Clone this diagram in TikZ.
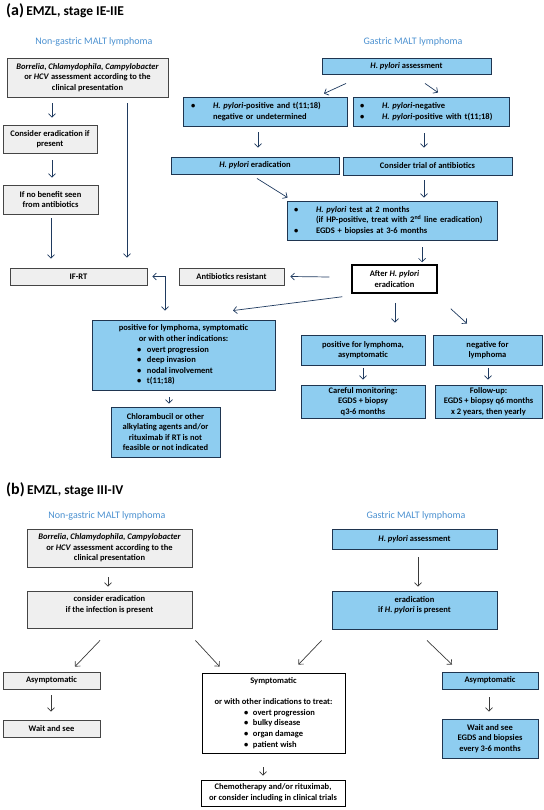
\documentclass[tikz,border=0pt]{standalone}
\usepackage{fontspec}
\setmainfont{Carlito}
\usetikzlibrary{arrows.meta,calc}
\definecolor{bfill}{HTML}{8ECDF0}
\definecolor{bdraw}{HTML}{1F3550}
\definecolor{gfill}{HTML}{EFEFEF}
\definecolor{gdraw}{HTML}{454545}
\definecolor{hblue}{HTML}{4A90D0}
\definecolor{arrc}{HTML}{1F3A5F}
\definecolor{arrg}{HTML}{3A3A3A}
\tikzset{
  base/.style={draw, inner sep=0pt, align=center, font=\fontsize{8.5}{10.6}\selectfont\bfseries, line width=0.9pt},
  gbox/.style={base, fill=gfill, draw=gdraw},
  bbox/.style={base, fill=bfill, draw=bdraw},
  wbox/.style={base, fill=white, draw=black},
  abox/.style={base, fill=white, draw=black, line width=1.5pt},
  hdr/.style={text=hblue, font=\fontsize{10}{12}\selectfont},
  ttl/.style={anchor=base west, inner sep=0pt, font=\bfseries},
  arr/.style={draw=arrc, line width=0.7pt, -{Straight Barb[length=3.5pt,width=7pt]}},
  arrb/.style={draw=arrc, line width=0.7pt, {Straight Barb[length=3.5pt,width=7pt]}-{Straight Barb[length=3.5pt,width=7pt]}},
  garr/.style={draw=arrg, line width=0.7pt, -{Straight Barb[length=3.5pt,width=7pt]}},
}
\newcommand\mkbox[7]{%
  \node[#2, minimum width={(#5)-(#3)}, minimum height={(#6)-(#4)}] (#1) at ({((#3)+(#5))/2},{((#4)+(#6))/2}) {#7};}
\newcommand\bl[3]{\makebox[#1pt][l]{\makebox[#2pt][l]{\textbullet}#3}}
\begin{document}
\begin{tikzpicture}[x=1pt,y=-1pt]
\useasboundingbox (0,0) rectangle (543,810);
% ---------- (a) ----------
\node[ttl] (ta) at (6,15.5) {{\fontsize{16}{16}\selectfont (a)} {\fontsize{13.5}{14}\selectfont EMZL, stage IE-IIE}};
\node[hdr] (ng1) at (94,42) {Non-gastric MALT lymphoma};
\node[hdr] (g1) at (413,42) {Gastric MALT lymphoma};

\mkbox{B1}{gbox}{7}{58}{168}{97}{\textit{Borrelia}, \textit{Chlamydophila}, \textit{Campylobacter}\\or \textit{HCV} assessment according to the\\clinical presentation}
\mkbox{B2}{gbox}{3}{125}{97}{153}{Consider eradication if\\present}
\mkbox{B3}{gbox}{3}{185}{98}{214}{If no benefit seen\\from antibiotics}
\mkbox{IFRT}{gbox}{10}{268}{147}{285}{IF-RT}
\mkbox{AR}{gbox}{179}{268}{284}{285}{Antibiotics resistant}

\mkbox{HPA}{bbox}{322}{58}{491}{74}{\textit{H. pylori} assessment}
\mkbox{L1}{bbox, text width=148pt, inner xsep=8pt, align=left}{183}{97}{347}{126}{\makebox[22pt][l]{\textbullet}\textit{H. pylori}-positive and t(11;18)\\\hspace*{22pt}negative or undetermined}
\mkbox{R1}{bbox, text width=142pt, inner xsep=7pt, align=left}{353}{97}{509}{126}{\makebox[22pt][l]{\textbullet}\textit{H. pylori}-negative\\\makebox[22pt][l]{\textbullet}\textit{H. pylori}-positive with t(11;18)}
\mkbox{ERAD}{bbox}{171}{157}{339}{174}{\textit{H. pylori} eradication}
\mkbox{TRIAL}{bbox}{343}{157}{512}{175}{Consider trial of antibiotics}
\mkbox{TEST}{bbox, text width=196pt, inner xsep=7pt, align=left}{287}{201}{497}{240}{\makebox[22pt][l]{\textbullet}\textit{H. pylori} test at 2 months\\\hspace*{22pt}(if HP-positive, treat with 2\textsuperscript{nd} line eradication)\\\makebox[22pt][l]{\textbullet}EGDS + biopsies at 3-6 months}
\mkbox{AFTER}{abox}{352}{265}{437}{293}{After \textit{H. pylori}\\eradication}
\mkbox{POS}{bbox}{92}{320}{275}{390}{positive for lymphoma, symptomatic\\or with other indications:\\\bl{93}{10}{overt progression}\\\bl{93}{10}{deep invasion}\\\bl{93}{10}{nodal involvement}\\\bl{93}{10}{t(11;18)}}
\mkbox{CHL}{bbox}{111}{407}{220}{457}{Chlorambucil or other\\alkylating agents and/or\\rituximab if RT is not\\feasible or not indicated}
\mkbox{PA}{bbox}{301}{335}{425}{365}{positive for lymphoma,\\asymptomatic}
\mkbox{NEG}{bbox}{433}{335}{542}{365}{negative for\\lymphoma}
\mkbox{CM}{bbox}{301}{385}{425}{418}{Careful monitoring:\\EGDS + biopsy\\q3-6 months}
\mkbox{FU}{bbox}{435}{385}{542}{418}{Follow-up:\\EGDS + biopsy q6 months\\x 2 years, then yearly}

% arrows (a)
\draw[arr] ($(B1.south)+(-35.5,6)$) -- ($(B2.north)+(2,-7)$);
\draw[arr] ($(B2.south)+(2,7)$) -- ($(B3.north)+(1.5,-7)$);
\draw[arr] ($(B3.south)+(0.5,4)$) -- ($(IFRT.north)+(-27.5,-9)$);
\draw[arr] ($(B1.south)+(39.5,6)$) -- ($(IFRT.north)+(48.5,-10)$);
\draw[arrb] ($(IFRT.east)+(5,0)$) -| ($(POS.north)+(-18.5,-9)$);
\draw[arr] ($(HPA.south)+(-60.5,9)$) -- ($(L1.north)+(59,-3)$);
\draw[arr] ($(HPA.south)+(18.5,9)$) -- ($(R1.north)+(7,-4)$);
\draw[arr] ($(L1.south)+(-7,6)$) -- ($(ERAD.north)+(3,-9)$);
\draw[arr] ($(R1.south)+(-7,7)$) -- ($(TRIAL.north)+(-3.5,-9)$);
\draw[arr] ($(ERAD.south)+(2,4)$) -- ($(TEST.north west)+(1,-3)$);
\draw[arr] ($(TRIAL.south)+(-3.5,5)$) -- ($(TEST.north)+(32,-3)$);
\draw[arr] ($(TEST.south)+(30,7)$) -- ($(AFTER.north)+(27.5,-2)$);
\draw[arr] ($(AFTER.west)+(-22,-2)$) -- ($(AR.east)+(6,0)$);
\draw[arr] ($(AFTER.south west)+(-9,3)$) -- ($(POS.north)+(49.5,-9)$);
\draw[arr] ($(AFTER.south)+(0.5,9)$) -- ($(PA.north)+(32,-12)$);
\draw[arr] ($(AFTER.south east)+(13,15)$) -- ($(NEG.north)+(-20.5,-11)$);
\draw[arr] ($(POS.south)+(-14.5,7)$) -- ($(CHL.north)+(3.5,-3)$);
\draw[arr] ($(PA.south)+(0,3)$) -- ($(CM.north)+(0,-5)$);
\draw[arr] ($(NEG.south)+(0.5,3)$) -- ($(FU.north)+(-0.5,-5)$);

% ---------- (b) ----------
\node[ttl] (tb) at (6,494.5) {{\fontsize{16}{16}\selectfont (b)} {\fontsize{13.5}{14}\selectfont EMZL, stage III-IV}};
\node[hdr] (ng2) at (107,516) {Non-gastric MALT lymphoma};
\node[hdr] (g2) at (416,516) {Gastric MALT lymphoma};

\mkbox{B1b}{gbox}{27}{529}{192}{567}{\textit{Borrelia}, \textit{Chlamydophila}, \textit{Campylobacter}\\or \textit{HCV} assessment according to the\\clinical presentation}
\mkbox{B2b}{gbox}{27}{591}{192}{628}{consider eradication\\if the infection is present\\\mbox{}}
\mkbox{HPAb}{bbox}{332}{529}{497}{549}{\textit{H. pylori} assessment}
\mkbox{ERADb}{bbox}{332}{591}{497}{629}{eradication\\if \textit{H. pylori} is present\\\mbox{}}
\mkbox{ASL}{gbox}{3}{672}{100}{689}{Asymptomatic}
\mkbox{WSL}{gbox}{3}{720}{100}{737}{Wait and see}
\mkbox{SYM}{wbox}{202}{673}{345}{753}{Symptomatic\\[10.6pt]or with other indications to treat:\\\bl{59}{9}{overt progression}\\\bl{59}{9}{bulky disease}\\\bl{59}{9}{organ damage}\\\bl{59}{9}{patient wish}}
\mkbox{CHEMO}{wbox}{201}{780}{345}{806}{Chemotherapy and/or rituximab,\\or consider including in clinical trials}
\mkbox{ASR}{bbox}{442}{672}{538}{689}{Asymptomatic}
\mkbox{WSR}{bbox}{442}{719}{538}{758}{Wait and see\\EGDS and biopsies\\every 3-6 months}

% arrows (b)
\draw[garr] ($(B1b.south)+(-1.5,10)$) -- ($(B2b.north)+(-1.5,-4)$);
\draw[garr] ($(HPAb.south)+(3.5,8)$) -- ($(ERADb.north)+(3.5,-4)$);
\draw[garr] ($(B2b.south)+(-9.5,12)$) -- ($(ASL.north)+(23.5,-5)$);
\draw[garr] ($(B2b.south east)+(3,12)$) -- ($(SYM.north west)+(18,-6)$);
\draw[garr] ($(ERADb.south west)+(-10,11)$) -- ($(SYM.north east)+(-47,-8)$);
\draw[garr] ($(ERADb.south)+(12.5,11)$) -- ($(ASR.north)+(-38,-7)$);
\draw[garr] ($(ASL.south)+(-0.5,6)$) -- ($(WSL.north)+(-0.5,-8)$);
\draw[garr] ($(SYM.south)+(-10.5,14)$) -- ($(CHEMO.north)+(-10,-4)$);
\draw[garr] ($(ASR.south)+(-1,8)$) -- ($(WSR.north)+(-1,-7)$);
\end{tikzpicture}
\end{document}
